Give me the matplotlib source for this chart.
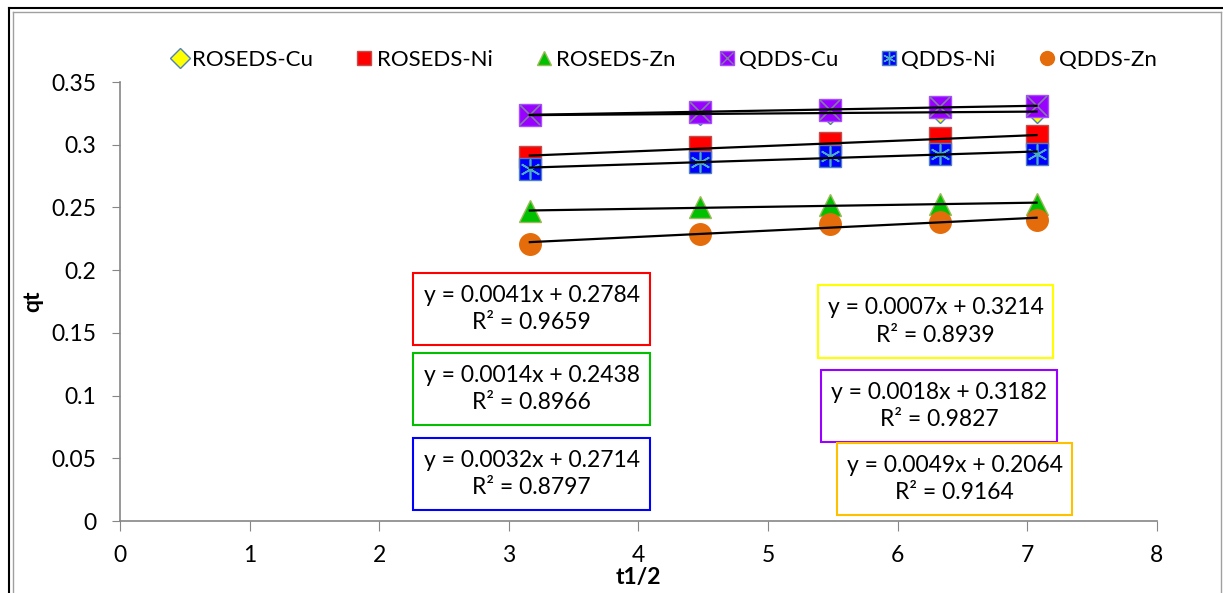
import matplotlib.pyplot as plt
import numpy as np
from matplotlib.lines import Line2D
from matplotlib.patches import Rectangle
from matplotlib.legend_handler import HandlerTuple

plt.rcParams['font.family'] = ['Lato', 'DejaVu Sans']

# t^(1/2) values
x = [3.162, 4.472, 5.477, 6.325, 7.071]

roseds_cu = [0.3235, 0.3245, 0.3255, 0.3260, 0.3262]
roseds_ni = [0.2905, 0.2980, 0.3010, 0.3050, 0.3070]
roseds_zn = [0.2470, 0.2500, 0.2520, 0.2530, 0.2530]
qdds_cu = [0.3240, 0.3260, 0.3280, 0.3300, 0.3310]
qdds_ni = [0.2810, 0.2860, 0.2910, 0.2930, 0.2930]
qdds_zn = [0.2210, 0.2290, 0.2370, 0.2380, 0.2400]

labels = ['ROSEDS-Cu', 'ROSEDS-Ni', 'ROSEDS-Zn', 'QDDS-Cu', 'QDDS-Ni', 'QDDS-Zn']
eq_texts = ['y = 0.0007x + 0.3214\nR² = 0.8939',
            'y = 0.0041x + 0.2784\nR² = 0.9659',
            'y = 0.0014x + 0.2438\nR² = 0.8966',
            'y = 0.0018x + 0.3182\nR² = 0.9827',
            'y = 0.0032x + 0.2714\nR² = 0.8797',
            'y = 0.0049x + 0.2064\nR² = 0.9164']

fig = plt.figure(figsize=(12.23, 5.93), dpi=100)
ax = fig.add_axes([0.0981, 0.1214, 0.8479, 0.7403])

ms = 15.5
# (series, marker, face, edge, overlay marker, overlay color)
styles = [
    (roseds_cu, 'D', '#FFFF00', '#4F81BD', None, None),
    (roseds_ni, 's', '#FF0000', '#C0504D', None, None),
    (roseds_zn, '^', '#00C000', '#9BBB59', None, None),
    (qdds_cu, 's', '#9900FF', '#A64DFF', 'x', '#7F7F9F'),
    (qdds_ni, 's', '#0000FF', '#4F81BD', (6, 2, 0), '#4BACC6'),
    (qdds_zn, 'o', '#E46C0A', '#E46C0A', None, None),
]
sizes = [11, ms, ms, ms, ms, ms]
handles = []
order = [0, 1, 4, 2, 5, 3]
for i in order:
    ys, mk, fc, ec, ov, oc = styles[i]
    ax.plot(x, ys, linestyle='none', marker=mk, markersize=sizes[i],
            markerfacecolor=fc, markeredgecolor=ec, markeredgewidth=1, zorder=3 + i * 0.1)
    if ov is not None:
        ax.plot(x, ys, linestyle='none', marker=ov, markersize=sizes[i] - 1,
                color=oc, markeredgewidth=1.2, zorder=3.05 + i * 0.1)

for i in range(6):
    ys, mk, fc, ec, ov, oc = styles[i]
    h = Line2D([], [], linestyle='none', marker=mk, markersize=10,
               markerfacecolor=fc, markeredgecolor=ec)
    if ov is not None:
        h2 = Line2D([], [], linestyle='none', marker=ov, markersize=9,
                    color=oc, markeredgewidth=1)
        h = (h, h2)
    handles.append(h)

# linear trendlines
xs = np.array(x)
for ys, *_ in styles:
    k, b = np.polyfit(xs, ys, 1)
    ax.plot([xs[0], xs[-1]], [k * xs[0] + b, k * xs[-1] + b], color='black', lw=1.6, zorder=6)

# equation boxes: (x0, x1, ybottom, ytop, edge color)
boxes = [
    (5.386, 7.199, 0.1300, 0.1882, '#FFFF00'),
    (2.260, 4.090, 0.1404, 0.1978, '#FF0000'),
    (2.260, 4.090, 0.0766, 0.1340, '#00C000'),
    (5.409, 7.230, 0.0630, 0.1204, '#9900FF'),
    (2.260, 4.090, 0.0088, 0.0662, '#0000FF'),
    (5.532, 7.346, 0.0048, 0.0622, '#FFC000'),
]
for (x0, x1, y0, y1, c), t in zip(boxes, eq_texts):
    ax.add_patch(Rectangle((x0, y0), x1 - x0, y1 - y0, fill=True, facecolor='white',
                           edgecolor=c, lw=1.5, zorder=7))
    ax.text((x0 + x1) / 2, (y0 + y1) / 2, t, ha='center', va='center',
            fontsize=16.5, linespacing=1.4, zorder=8)

ax.set_xlim(0, 8)
ax.set_ylim(0, 0.35)
ax.set_xticks(range(0, 9))
ax.set_yticks(np.arange(0, 0.351, 0.05))
ax.set_yticklabels(['0', '0.05', '0.1', '0.15', '0.2', '0.25', '0.3', '0.35'])
for s in ['top', 'right']:
    ax.spines[s].set_visible(False)
for s in ['left', 'bottom']:
    ax.spines[s].set_color('#868686')
    ax.spines[s].set_linewidth(1.2)
ax.tick_params(axis='y', length=6, color='#868686', labelsize=16.5, pad=11)
ax.tick_params(axis='x', length=7, color='#868686', labelsize=16.5, pad=10)
ax.set_xlabel('t1/2', fontsize=16.5, fontweight='bold', labelpad=1)
ax.set_ylabel('qt', fontsize=16.5, fontweight='bold', labelpad=6)

fig.legend(handles, labels, ncol=6, loc='center', bbox_to_anchor=(0.543, 0.899),
           frameon=False, fontsize=16, handlelength=0.8, handletextpad=0.15,
           columnspacing=1.9, handler_map={tuple: HandlerTuple(ndivide=1)})

# outer double border
W, H = 1223, 593
def fx(p):
    return p / W
def fy(p):
    return 1 - p / H
fig.add_artist(Line2D([fx(9), fx(9)], [fy(8), 0], color='black', lw=1.5))
fig.add_artist(Line2D([fx(9), 1], [fy(8), fy(8)], color='black', lw=1.5))
fig.add_artist(Line2D([fx(12.5), fx(12.5)], [fy(12), 0], color='#A0A0A0', lw=1))
fig.add_artist(Line2D([fx(12.5), fx(1221)], [fy(12), fy(12)], color='#A0A0A0', lw=1))
fig.add_artist(Line2D([fx(1221), fx(1221)], [fy(12), 0], color='#A0A0A0', lw=1))

fig.savefig('out.png', dpi=100)
